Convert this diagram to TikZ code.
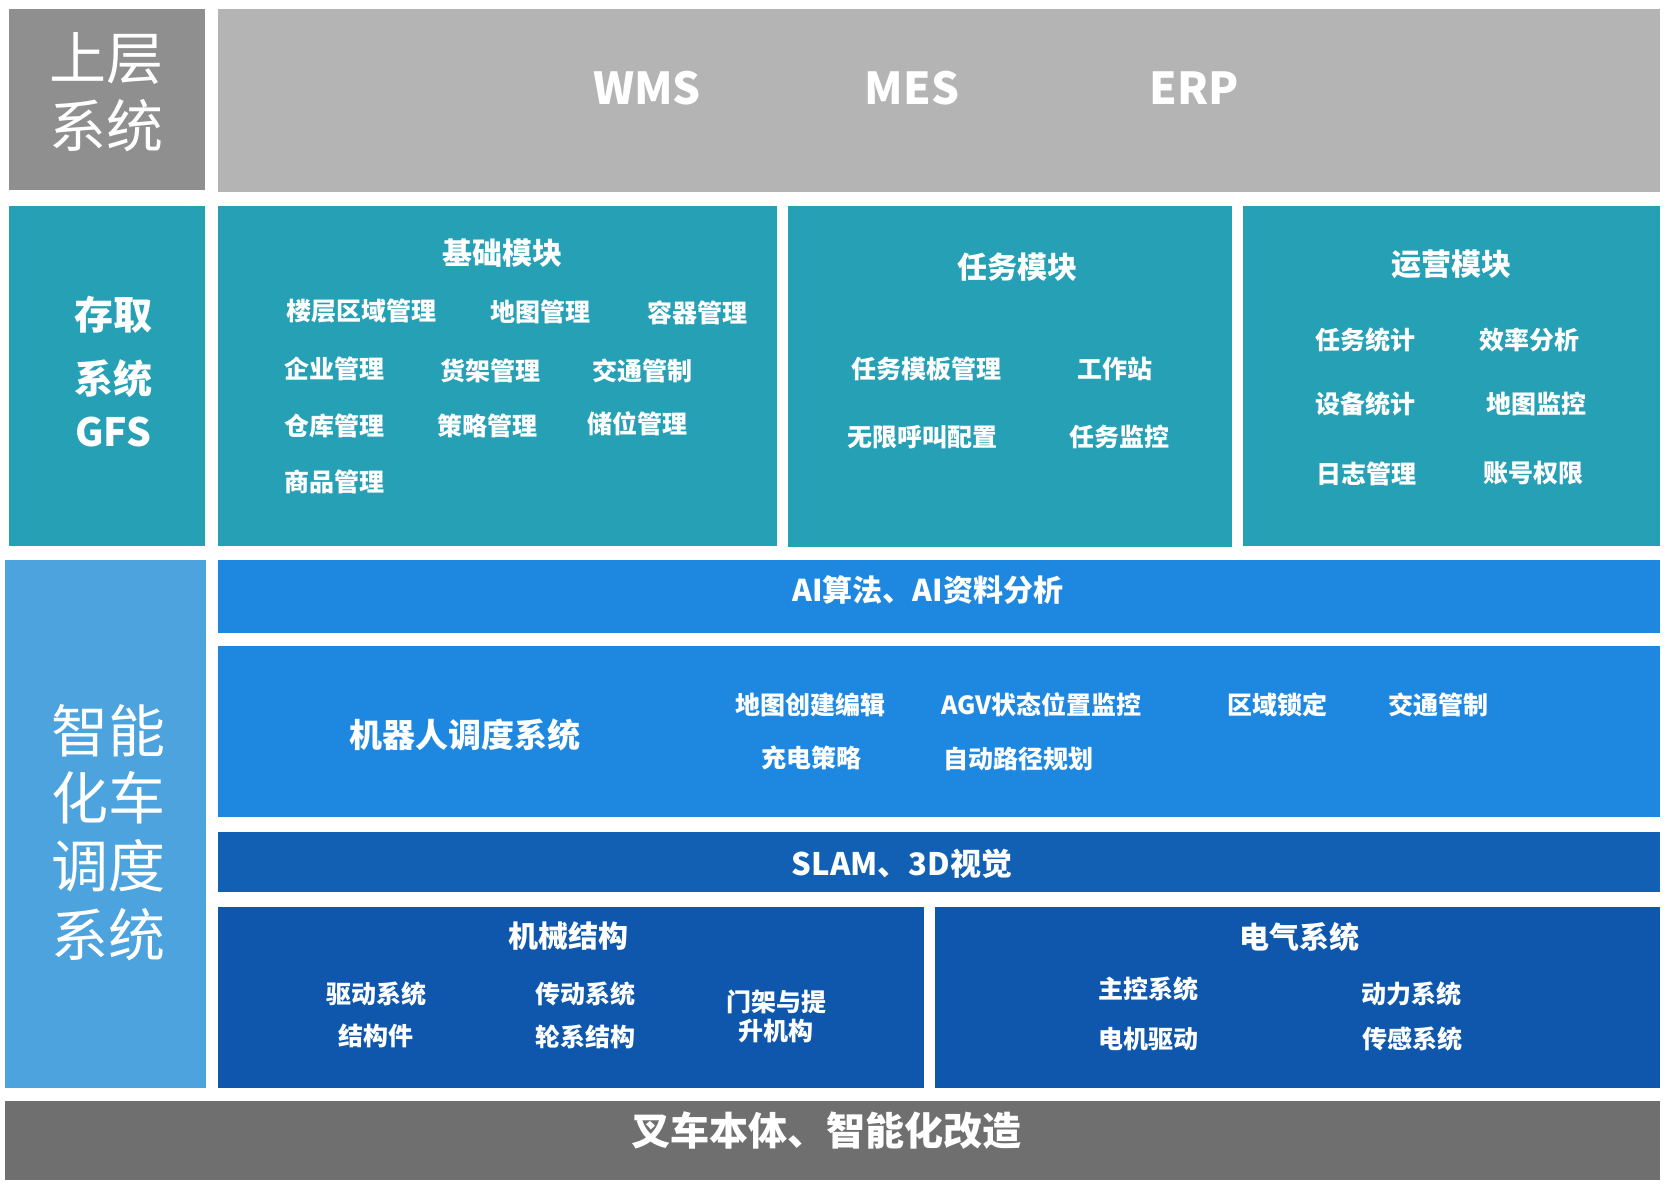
\documentclass[tikz,border=0pt]{standalone}
\usepackage{fontspec}
\setmainfont{Noto Sans CJK SC}
\definecolor{cGA}{HTML}{8F8F8F}
\definecolor{cGB}{HTML}{B4B4B4}
\definecolor{cTeal}{HTML}{26A0B5}
\definecolor{cLB}{HTML}{4DA3DD}
\definecolor{cBlue}{HTML}{1E88E0}
\definecolor{cSlam}{HTML}{1160B4}
\definecolor{cDark}{HTML}{0E57AD}
\definecolor{cGray}{HTML}{6F6F6F}
\newcommand\mybx[6]{\node[box, fill=#6, minimum width={#4pt-#2pt}, minimum height={#5pt-#3pt}] (#1) at (#2,#3) {};}
\newcommand\fs[1]{\fontsize{#1}{#1}\selectfont}
\tikzset{
  box/.style={anchor=north west, inner sep=0pt, outer sep=0pt, draw=none},
  lbl/.style={text=white, inner sep=0pt, font=\bfseries\fs{25}},
  head/.style={text=white, inner sep=0pt, font=\bfseries\fs{30}},
  big/.style={text=white, inner sep=0pt, font=\fs{57}},
  gfs/.style={text=white, inner sep=0pt, font=\bfseries\fs{39}},
}
\begin{document}
\begin{tikzpicture}[x=1pt,y=-1pt]
\useasboundingbox[fill=white] (0,0) rectangle (1672,1192);
% boxes
\mybx{upL}{8.5}{8.5}{204.7}{190}{cGA}
\mybx{upR}{217.5}{8.5}{1660}{192}{cGB}
\mybx{gfsL}{8.5}{206}{204.7}{546}{cTeal}
\mybx{basic}{217.5}{206}{777}{546}{cTeal}
\mybx{task}{788}{206}{1232}{547}{cTeal}
\mybx{oper}{1243}{206}{1660}{546}{cTeal}
\mybx{agvL}{5.3}{560}{205.8}{1088}{cLB}
\mybx{ai}{217.5}{560}{1660}{633}{cBlue}
\mybx{robot}{217.5}{646}{1660}{817}{cBlue}
\mybx{slam}{217.5}{832}{1660}{892}{cSlam}
\mybx{mech}{217.5}{907}{923.5}{1088}{cDark}
\mybx{elec}{935}{907}{1660}{1088}{cDark}
\mybx{base}{5.3}{1101}{1660}{1180}{cGray}
% top row
\node[big] (tUp1) at (106.6,58.6) {上层};
\node[big] (tUp2) at (106.6,125.8) {系统};
\node[text=white, font=\bfseries\fs{44}] (tWMS) at (647,88.5) {WMS};
\node[text=white, font=\bfseries\fs{44}] (tMES) at (912,88.5) {MES};
\node[text=white, font=\bfseries\fs{44}] (tERP) at (1194,88.5) {ERP};
% GFS
\node[gfs] (tGFS1) at (113,314.6) {存取};
\node[gfs] (tGFS2) at (113,378.5) {系统};
\node[gfs] (tGFS3) at (113,431.8) {GFS};
% basic module
\node[head] (hBasic) at (502,252.7) {基础模块};
\node[lbl] (b1) at (361.5,311.4) {楼层区域管理};
\node[lbl] (b2) at (540.6,311.4) {地图管理};
\node[lbl] (b3) at (697,312.4) {容器管理};
\node[lbl] (b4) at (334.8,369) {企业管理};
\node[lbl] (b5) at (490.5,371) {货架管理};
\node[lbl] (b6) at (642,371) {交通管制};
\node[lbl] (b7) at (334.8,425.5) {仓库管理};
\node[lbl] (b8) at (487.3,425.5) {策略管理};
\node[lbl] (b9) at (637.6,423.3) {储位管理};
\node[lbl] (b10) at (334.8,482) {商品管理};
% task module
\node[head] (hTask) at (1017,267.6) {任务模块};
\node[lbl] (k1) at (926.6,369) {任务模板管理};
\node[lbl] (k2) at (1115,369) {工作站};
\node[lbl] (k3) at (922,437) {无限呼叫配置};
\node[lbl] (k4) at (1119.6,437) {任务监控};
% operation module
\node[head] (hOper) at (1451,264.4) {运营模块};
\node[lbl] (o1) at (1365,340) {任务统计};
\node[lbl] (o2) at (1529,340) {效率分析};
\node[lbl] (o3) at (1365,404) {设备统计};
\node[lbl] (o4) at (1536.6,404) {地图监控};
\node[lbl] (o5) at (1366,473.4) {日志管理};
\node[lbl] (o6) at (1533,473.4) {账号权限};
% left AGV label
\node[big] (tAgv1) at (108.8,730.4) {智能};
\node[big] (tAgv2) at (108.8,797.6) {化车};
\node[big] (tAgv3) at (108.8,865.8) {调度};
\node[big] (tAgv4) at (108.8,935) {系统};
% AI
\node[head, font=\bfseries\fs{30}] (tAI) at (927.7,589.7) {AI算法、AI资料分析};
% robot
\node[head, font=\bfseries\fs{33}] (tRobot) at (465,734.7) {机器人调度系统};
\node[lbl] (r1) at (810,704.8) {地图创建编辑};
\node[lbl] (r2) at (1041.8,704.8) {AGV状态位置监控};
\node[lbl] (r3) at (1277.4,704.8) {区域锁定};
\node[lbl] (r4) at (1438.4,704.8) {交通管制};
\node[lbl] (r5) at (811.4,758) {充电策略};
\node[lbl] (r6) at (1018.3,759.2) {自动路径规划};
% SLAM
\node[head, font=\bfseries\fs{31}] (tSlam) at (902,863.7) {SLAM、3D视觉};
% mechanical
\node[head] (hMech) at (568.3,936.2) {机械结构};
\node[lbl] (m1) at (376.4,993.8) {驱动系统};
\node[lbl] (m2) at (376.4,1036.4) {结构件};
\node[lbl] (m3) at (585.4,993.8) {传动系统};
\node[lbl] (m4) at (585.4,1036.4) {轮系结构};
\node[lbl] (m5a) at (776,1002.3) {门架与提};
\node[lbl] (m5b) at (776,1031) {升机构};
% electrical
\node[head] (hElec) at (1299.8,937.3) {电气系统};
\node[lbl] (e1) at (1148.4,988.5) {主控系统};
\node[lbl] (e2) at (1411.8,993.8) {动力系统};
\node[lbl] (e3) at (1148.4,1038.6) {电机驱动};
\node[lbl] (e4) at (1412.8,1038.6) {传感系统};
% base
\node[text=white, font=\bfseries\fs{39}] (tBase) at (826.4,1130.3) {叉车本体、智能化改造};
\end{tikzpicture}
\end{document}
